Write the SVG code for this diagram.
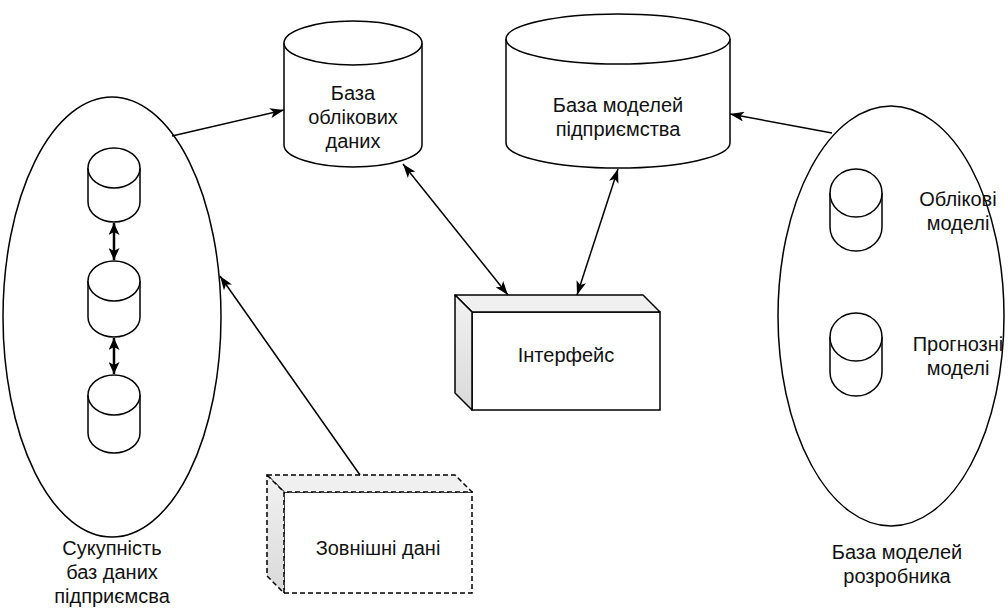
<svg xmlns="http://www.w3.org/2000/svg" width="1008" height="615" viewBox="0 0 1008 615">
  <style>
    .shape { fill: #ffffff; stroke: #000000; stroke-width: 1.5; }
    .dashed { stroke-dasharray: 5 3; }
    .face-top { fill: #f0f0f0; stroke: #000000; stroke-width: 1.5; stroke-linejoin: round; }
    .face-side { fill: url(#sideShade); stroke: #000000; stroke-width: 1.5; stroke-linejoin: round; }
    .edge { fill: none; stroke: #000000; stroke-width: 1.5; }
    .edge-bold { fill: none; stroke: #000000; stroke-width: 2.5; }
    .label { font-family: "Liberation Sans", Arial, sans-serif; font-size: 20px; fill: #111111; text-anchor: middle; }
  </style>
  <defs>
    <linearGradient id="sideShade" x1="0" y1="0" x2="0" y2="1">
      <stop offset="0" stop-color="#f2f2f2"/>
      <stop offset="1" stop-color="#d9d9d9"/>
    </linearGradient>
    <marker id="arrow" viewBox="0 0 14 10" refX="14" refY="5" markerWidth="14" markerHeight="10" markerUnits="userSpaceOnUse" orient="auto-start-reverse">
      <path d="M0,0 L14,5 L0,10 L3.5,5 Z" fill="#000000"/>
    </marker>
    <marker id="arrowBold" viewBox="0 0 12 11" refX="12" refY="5.5" markerWidth="12" markerHeight="11" markerUnits="userSpaceOnUse" orient="auto-start-reverse">
      <path d="M0,0 L12,5.5 L0,11 L3,5.5 Z" fill="#000000"/>
    </marker>
  </defs>

  <rect width="1008" height="615" fill="#ffffff"/>

  <!-- group of enterprise databases -->
  <g id="enterprise-dbs">
    <ellipse class="shape" cx="112" cy="317" rx="109" ry="220"/>
    <g id="db-1">
      <path class="shape" d="M88,168 L88,202 A26,20 0 0 0 140,202 L140,168"/>
      <ellipse class="shape" cx="114" cy="168" rx="26" ry="20"/>
    </g>
    <g id="db-2">
      <path class="shape" d="M88,281 L88,317 A26,20 0 0 0 140,317 L140,281"/>
      <ellipse class="shape" cx="114" cy="281" rx="26" ry="20"/>
    </g>
    <g id="db-3">
      <path class="shape" d="M88,395 L88,433 A26,20 0 0 0 140,433 L140,395"/>
      <ellipse class="shape" cx="114" cy="395" rx="26" ry="20"/>
    </g>
    <text class="label" x="112" y="555">Сукупність</text>
    <text class="label" x="112" y="579">баз даних</text>
    <text class="label" x="112" y="603">підприємсва</text>
  </g>

  <!-- accounting data base -->
  <g id="accounting-db">
    <path class="shape" d="M284,43 L284,145 A69,22 0 0 0 422,145 L422,43"/>
    <ellipse class="shape" cx="353" cy="43" rx="69" ry="22"/>
    <text class="label" x="353" y="100">База</text>
    <text class="label" x="353" y="124">облікових</text>
    <text class="label" x="353" y="148">даних</text>
  </g>

  <!-- enterprise model base -->
  <g id="enterprise-models">
    <path class="shape" d="M506,39 L506,143 A112,25 0 0 0 730,143 L730,39"/>
    <ellipse class="shape" cx="618" cy="39" rx="112" ry="25"/>
    <text class="label" x="618" y="112">База моделей</text>
    <text class="label" x="618" y="136">підприємства</text>
  </g>

  <!-- interface block -->
  <g id="interface">
    <rect class="shape" x="472" y="312" width="188" height="98"/>
    <polygon class="face-top" points="455,295 643,295 660,312 472,312"/>
    <polygon class="face-side" points="455,295 472,312 472,410 455,393"/>
    <text class="label" x="566" y="362">Інтерфейс</text>
  </g>

  <!-- external data block -->
  <g id="external-data">
    <rect class="shape dashed" x="284" y="492" width="188" height="101"/>
    <polygon class="face-top dashed" points="267,475 455,475 472,492 284,492"/>
    <polygon class="face-side dashed" points="267,475 284,492 284,593 267,576"/>
    <text class="label" x="378" y="555">Зовнішні дані</text>
  </g>

  <!-- developer model base -->
  <g id="developer-models">
    <ellipse class="shape" cx="891" cy="316" rx="113" ry="210"/>
    <g id="accounting-models">
      <path class="shape" d="M830,193 L830,227 A26,24 0 0 0 882,227 L882,193"/>
      <ellipse class="shape" cx="856" cy="193" rx="26" ry="24"/>
      <text class="label" x="958" y="206">Облікові</text>
      <text class="label" x="958" y="230">моделі</text>
    </g>
    <g id="forecast-models">
      <path class="shape" d="M830,337 L830,372 A26,24 0 0 0 882,372 L882,337"/>
      <ellipse class="shape" cx="856" cy="337" rx="26" ry="24"/>
      <text class="label" x="958" y="351">Прогнозні</text>
      <text class="label" x="958" y="375">моделі</text>
    </g>
    <text class="label" x="897" y="559">База моделей</text>
    <text class="label" x="897" y="583">розробника</text>
  </g>

  <!-- connectors -->
  <g id="connectors">
    <line class="edge" x1="172" y1="136" x2="284" y2="110" marker-end="url(#arrow)"/>
    <line class="edge" x1="360" y1="475" x2="220" y2="276" marker-end="url(#arrow)"/>
    <line class="edge" x1="403" y1="164" x2="508" y2="295" marker-start="url(#arrow)" marker-end="url(#arrow)"/>
    <line class="edge" x1="618" y1="169" x2="577" y2="295" marker-start="url(#arrow)" marker-end="url(#arrow)"/>
    <line class="edge" x1="832" y1="133" x2="730" y2="114" marker-end="url(#arrow)"/>
    <line class="edge-bold" x1="114" y1="223" x2="114" y2="260" marker-start="url(#arrowBold)" marker-end="url(#arrowBold)"/>
    <line class="edge-bold" x1="114" y1="338" x2="114" y2="374" marker-start="url(#arrowBold)" marker-end="url(#arrowBold)"/>
  </g>
</svg>
